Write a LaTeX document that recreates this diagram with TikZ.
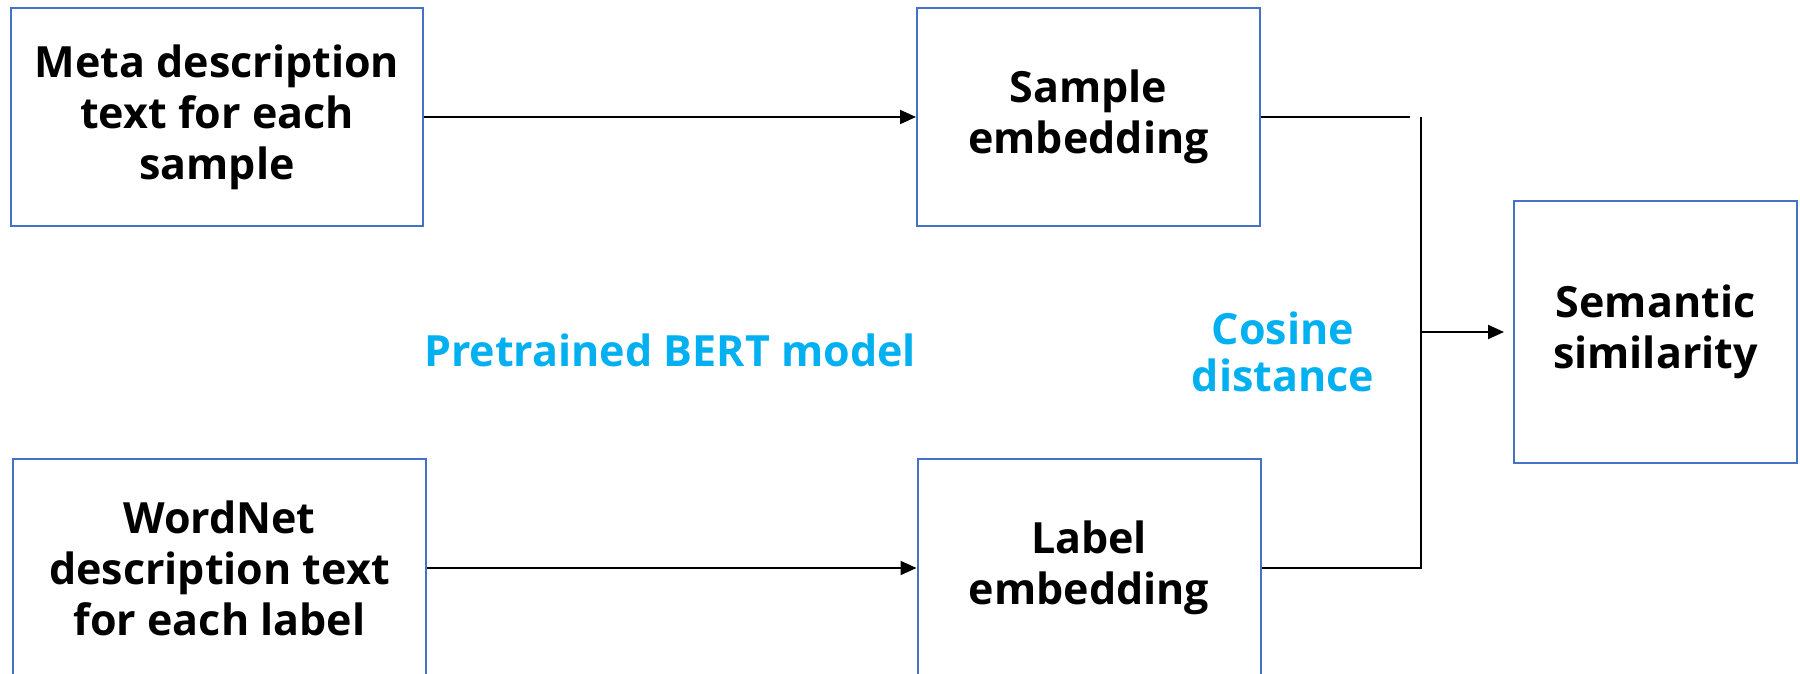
\documentclass[tikz,border=0pt]{standalone}
\usepackage{fontspec}
\setmainfont{Open Sans}
\usetikzlibrary{arrows.meta}
\definecolor{boxblue}{HTML}{4472C4}
\definecolor{lblue}{HTML}{00B0F0}
\begin{document}
\begin{tikzpicture}[x=0.5pt,y=-0.5pt,
  box/.style={draw=boxblue,line width=1pt,inner sep=0pt,align=center,
    font=\fontsize{21.5}{25.5}\selectfont\bfseries},
  lbl/.style={text=lblue,align=center,inner sep=0pt,
    font=\fontsize{21.5}{23.5}\selectfont\bfseries},
  conn/.style={line width=1pt},
  arr/.style={conn,-{Triangle[length=8pt,width=7pt]}}]
\useasboundingbox (0,0) rectangle (1800,674);
\node[box,minimum width=206pt,minimum height=109pt] (meta) at (217,117) {Meta description\\text for each\\sample};
\node[box,minimum width=171.5pt,minimum height=109pt] (samp) at (1088.5,117) {Sample\\embedding};
\node[box,minimum width=206.5pt,minimum height=109pt] (wn) at (219.5,568) {WordNet\\description text\\for each label};
\node[box,minimum width=171.5pt,minimum height=109pt] (lab) at (1089,568) {Label\\embedding};
\node[box,minimum width=141.5pt,minimum height=131pt] (sem) at (1655.5,332) {Semantic\\similarity};
\node[lbl] (bert) at (670,350) {Pretrained BERT model};
\node[lbl] (cos) at (1283,352) {Cosine\\distance};
\coordinate (tl) at (1410,117);
\coordinate (vt) at (1421,117);
\coordinate (vb) at (1421,568);
\coordinate (vm) at (1421,332);
\draw[arr] (meta.east) -- (samp.west);
\draw[arr] (wn.east) -- (lab.west);
\draw[conn] (samp.east) -- (tl);
\draw[conn,line width=1.3pt] (lab.east) -- (vb) -- (vt);
\draw[arr,shorten >=4.5pt] (vm) -- (sem.west);
\end{tikzpicture}
\end{document}
